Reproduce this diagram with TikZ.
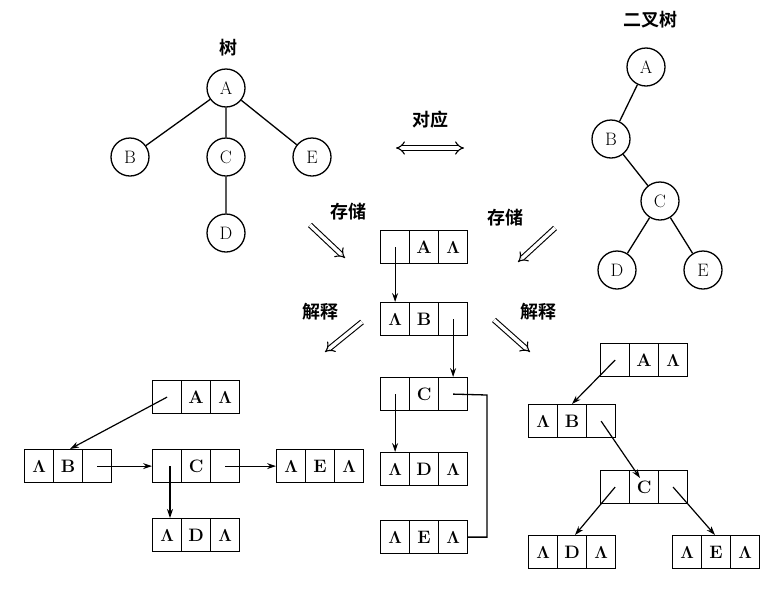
\documentclass[tikz,border=0pt]{standalone}
\usepackage{fontspec}
\newfontfamily\cjk{Noto Sans CJK SC}[BoldFont={Noto Sans CJK SC Bold}]
\usetikzlibrary{arrows.meta,calc}
\tikzset{
 cell/.style={draw,line width=1.2pt,minimum width=29pt,minimum height=33pt,inner sep=0pt,font=\bfseries\fontsize{18}{18}\selectfont,anchor=north west},
 tn/.style={draw,circle,line width=1.3pt,minimum size=38pt,inner sep=0pt,font=\fontsize{18}{18}\selectfont},
 edge/.style={line width=1.3pt},
 ptr/.style={line width=1.2pt,-{Stealth[length=9pt,width=6pt]}},
 dbl/.style={double,double distance=3.5pt,line width=1.1pt,-{Implies[length=7pt]}},
 lab/.style={font=\cjk\bfseries\fontsize{18}{18}\selectfont}
}
\newcommand{\lm}{$\boldsymbol{\Lambda}$}
\usepackage{amsmath}
\newcommand{\rec}[6]{%
 \node[cell] (#11) at (#2,#3) {#4};
 \node[cell] (#12) at (#2+29,#3) {#5};
 \node[cell] (#13) at (#2+58,#3) {#6};}
\begin{document}
\begin{tikzpicture}[x=1pt,y=-1pt]
\useasboundingbox (0,0) rectangle (781,592);
% tree
\node[lab] (t1) at (228,48) {树};
\node[tn] (ta) at (226,88) {A};
\node[tn] (tb) at (130,157) {B};
\node[tn] (tc) at (226,157) {C};
\node[tn] (te) at (312,157) {E};
\node[tn] (td) at (226,233) {D};
\draw[edge] (ta)--(tb) (ta)--(tc) (ta)--(te) (tc)--(td);
% binary tree
\node[lab] (t2) at (650,20) {二叉树};
\node[tn] (ba) at (646,67) {A};
\node[tn] (bb) at (611,139) {B};
\node[tn] (bc) at (660,201) {C};
\node[tn] (bd) at (617,270) {D};
\node[tn] (be) at (703,270) {E};
\draw[edge] (ba)--(bb) (bb)--(bc) (bc)--(bd) (bc)--(be);
% middle labels
\node[lab] (dy) at (430,120) {对应};
\coordinate (d1) at (396,148); \coordinate (d2) at (464,148);
\draw[double,double distance=3.5pt,line width=1.1pt,{Implies[length=7pt]}-{Implies[length=7pt]}] (d1)--(d2);
\node[lab] (c1) at (348,212) {存储};
\node[lab] (c2) at (505,218) {存储};
\node[lab] (j1) at (320,312) {解释};
\node[lab] (j2) at (538,312) {解释};
\coordinate (a1s) at (310,225); \coordinate (a1e) at (345,258);
\coordinate (a2s) at (555,228); \coordinate (a2e) at (518,262);
\coordinate (a3s) at (362,322); \coordinate (a3e) at (325,352);
\coordinate (a4s) at (494,320); \coordinate (a4e) at (530,352);
\draw[dbl] (a1s)--(a1e); \draw[dbl] (a2s)--(a2e);
\draw[dbl] (a3s)--(a3e); \draw[dbl] (a4s)--(a4e);
% center storage
\rec{mA}{380}{230}{}{A}{\lm}
\rec{mB}{380}{302}{\lm}{B}{}
\rec{mC}{380}{377}{}{C}{}
\rec{mD}{380}{452}{\lm}{D}{\lm}
\rec{mE}{380}{520}{\lm}{E}{\lm}
\draw[ptr] (mA1.center)--(mA1.center|-mB1.north);
\draw[ptr] (mB3.center)--(mB3.center|-mC3.north);
\draw[ptr] (mC1.center)--(mC1.center|-mD1.north);
\coordinate (rt) at (487,395);
\draw[edge] (mC3.center)--(rt)|-(mE3.east);
% left interpretation
\rec{lA}{152}{380}{}{A}{\lm}
\rec{lB}{24}{449}{\lm}{B}{}
\rec{lC}{152}{449}{}{C}{}
\rec{lE}{276}{449}{\lm}{E}{\lm}
\rec{lD}{152}{518}{\lm}{D}{\lm}
\coordinate (lBt) at (70,449);
\draw[ptr] (lA1.center)--(lBt);
\draw[ptr] (lB3.center)--(lC1.west);
\draw[ptr] (lC3.center)--(lE1.west);
\coordinate (lCd) at (170,466); \coordinate (lDt) at (170,518);
\draw[ptr] (lCd)--(lDt);
% right interpretation
\rec{rA}{600}{343}{}{A}{\lm}
\rec{rB}{528}{404}{\lm}{B}{}
\rec{rC}{600}{470}{}{C}{}
\rec{rD}{528}{535}{\lm}{D}{\lm}
\rec{rE}{672}{535}{\lm}{E}{\lm}
\coordinate (rBt) at (572,404);
\draw[ptr] (rA1.center)--(rBt);
\coordinate (rCt) at (640,478);
\draw[ptr] (rB3.center)--(rCt);
\coordinate (rDt) at (575,535);
\draw[ptr] (rC1.center)--(rDt);
\coordinate (rEt) at (715,535);
\draw[ptr] (rC3.center)--(rEt);
\end{tikzpicture}
\end{document}
